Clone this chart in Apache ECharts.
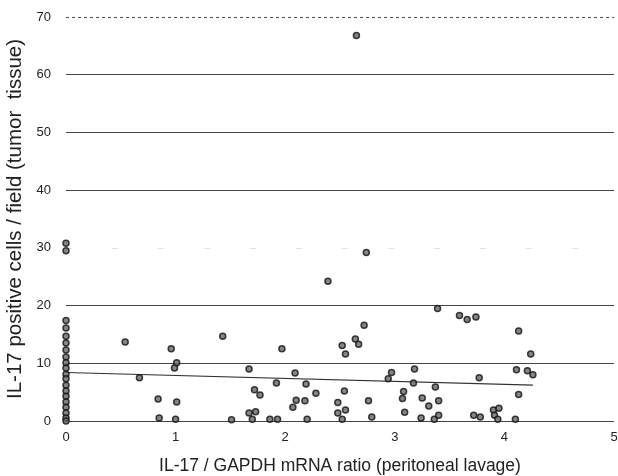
<!DOCTYPE html>
<html><head><meta charset="utf-8">
<script src="https://cdn.jsdelivr.net/npm/echarts@6/dist/echarts.min.js"></script>
<style>html,body{margin:0;padding:0;background:#fff}#c{width:618px;height:476px}</style>
</head><body><div id="c"></div>
<script>
// x = IL-17/GAPDH mRNA ratio, y = IL-17 positive cells / field
const zeroColumnY = [30.8, 29.5, 17.4, 16.1, 14.7, 13.5, 12.3, 11.1, 10.1, 9.2, 8.1, 7.3, 6.2, 5.2, 4.3, 3.3, 2.4, 1.4, 0.5, 0];
const pointsX = [0.54,0.96,1.01,0.99,0.67,0.84,1.01,0.85,1.0,1.43,1.51,1.67,1.67,1.73,1.70,1.72,1.77,1.86,1.93,1.97,1.92,2.09,2.19,2.28,2.10,2.18,2.07,2.20,2.39,2.54,2.48,2.48,2.55,2.52,2.52,2.55,2.64,2.67,2.72,2.74,2.65,2.76,2.79,2.97,2.94,3.07,3.08,3.09,3.18,3.17,3.24,3.25,3.31,3.36,3.37,3.39,3.40,3.40,3.59,3.66,3.74,3.77,3.72,3.78,3.90,3.95,3.91,3.94,4.10,4.11,4.13,4.13,4.21,4.24,4.26];
const pointsY = [13.7,12.5,10.1,9.2,7.5,3.8,3.3,0.5,0.3,14.7,0.2,9.0,1.4,1.6,0.3,5.4,4.5,0.3,0.3,12.5,6.6,8.3,6.4,4.8,3.6,3.5,2.4,0.3,24.2,5.2,3.2,1.4,1.9,0.3,13.1,11.6,14.2,13.3,16.6,29.2,66.8,3.5,0.7,8.4,7.3,3.9,5.1,1.5,9.0,6.6,0.5,4.0,2.6,0.3,5.9,19.5,3.5,1.0,18.3,17.6,18.0,7.5,1.0,0.7,1.9,2.2,1.0,0.3,0.3,8.9,15.6,4.6,8.7,11.6,8.0];
const fitX = [0, 4.26];
const fitY = [8.4, 6.2];
const xTicks = [0, 1, 2, 3, 4, 5];
const yTicks = [0, 10, 20, 30, 40, 50, 60, 70];
const solidGrid = [0, 10, 20, 40, 50, 60];
const faintGrid = [30];
const dottedGrid = [70];

const scatterData = zeroColumnY.map(v => [0, v]).concat(pointsX.map((x, i) => [x, pointsY[i]]));
const fitData = fitX.map((x, i) => [x, fitY[i]]);

const chart = echarts.init(document.getElementById('c'));
const font = 'Liberation Sans, Arial, sans-serif';
chart.setOption({
  animation: false,
  backgroundColor: '#fff',
  grid: { left: 66, right: 4, top: 17, bottom: 55, containLabel: false, outerBoundsMode: 'none' },
  xAxis: {
    type: 'value', min: 0, max: 5, interval: 1,
    axisLine: { show: false }, axisTick: { show: false }, splitLine: { show: false },
    axisLabel: { margin: 10, fontSize: 13, color: '#222', fontFamily: font },
    name: 'IL-17 / GAPDH mRNA ratio (peritoneal lavage)', nameLocation: 'middle', nameGap: 36,
    nameTextStyle: { fontSize: 17.5, color: '#222', fontFamily: font }
  },
  yAxis: {
    type: 'value', min: 0, max: 70, interval: 10,
    axisLine: { show: false }, axisTick: { show: false }, splitLine: { show: false },
    axisLabel: { margin: 15, fontSize: 13, color: '#222', fontFamily: font },
    name: 'IL-17 positive cells / field (tumor  tissue)', nameLocation: 'middle', nameGap: 38,
    nameTextStyle: { fontSize: 20.5, color: '#222', fontFamily: font }
  },
  series: [
    {
      type: 'line', data: fitData, symbol: 'none', silent: true,
      lineStyle: { color: '#333', width: 1.2 }, z: 3,
      markLine: {
        silent: true, symbol: 'none', label: { show: false },
        data: solidGrid.map(v => ({ yAxis: v, lineStyle: { color: '#444', width: 1.1, type: 'solid' } }))
          .concat(faintGrid.map(v => ({ yAxis: v, lineStyle: { color: '#e4e4e4', width: 1, type: [6, 40] } })))
          .concat(dottedGrid.map(v => ({ yAxis: v, lineStyle: { color: '#555', width: 1.1, type: [3, 3] } })))
      }
    },
    {
      type: 'scatter', data: scatterData, symbol: 'circle', symbolSize: 6, z: 5,
      itemStyle: { color: '#666', borderColor: '#111', borderWidth: 1.5 }
    }
  ]
});
</script></body></html>
